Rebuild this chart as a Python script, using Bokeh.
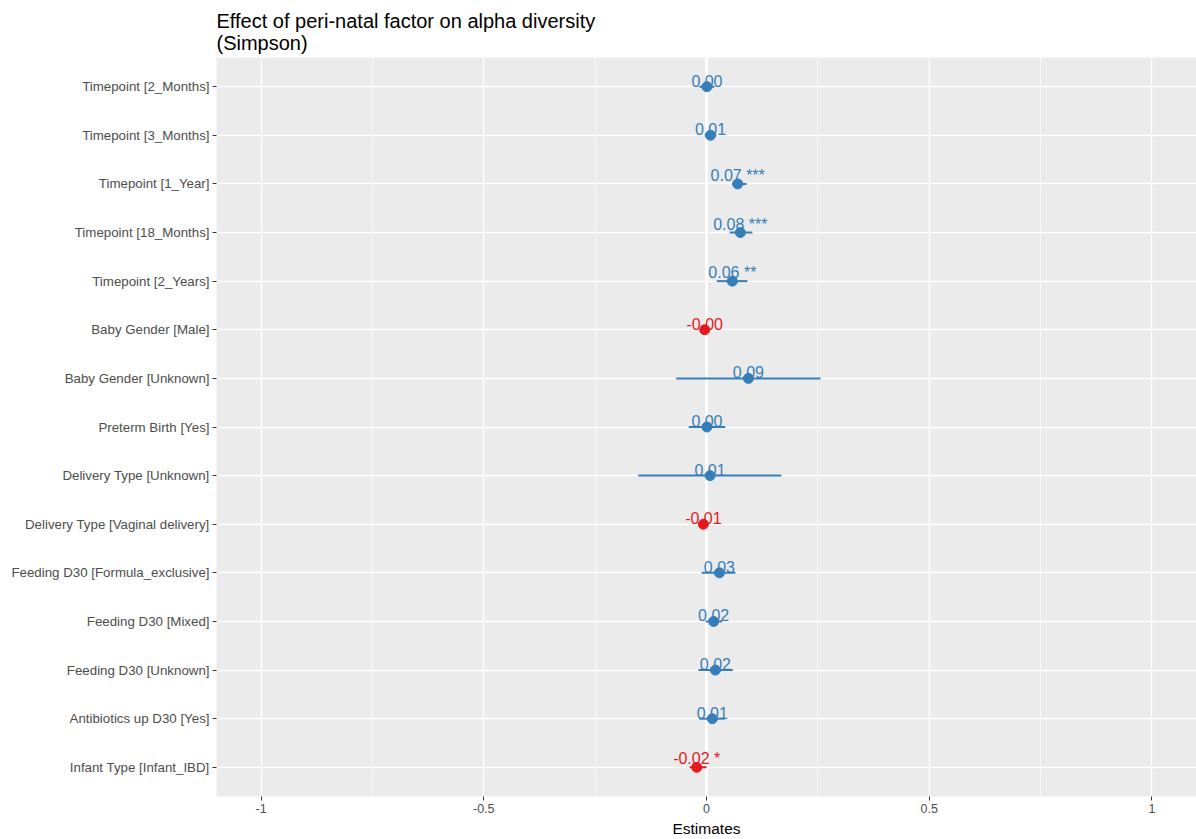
from bokeh.plotting import figure
from bokeh.models import FixedTicker, ColumnDataSource, Span
from bokeh.embed import file_html
from bokeh.resources import INLINE
from bokeh.core.properties import value

terms = [
    "Timepoint [2_Months]",
    "Timepoint [3_Months]",
    "Timepoint [1_Year]",
    "Timepoint [18_Months]",
    "Timepoint [2_Years]",
    "Baby Gender [Male]",
    "Baby Gender [Unknown]",
    "Preterm Birth [Yes]",
    "Delivery Type [Unknown]",
    "Delivery Type [Vaginal delivery]",
    "Feeding D30 [Formula_exclusive]",
    "Feeding D30 [Mixed]",
    "Feeding D30 [Unknown]",
    "Antibiotics up D30 [Yes]",
    "Infant Type [Infant_IBD]",
]
estimates = [0.001, 0.009, 0.070, 0.076, 0.058, -0.004, 0.094, 0.001, 0.008,
             -0.007, 0.029, 0.016, 0.020, 0.013, -0.022]
ci_low = [-0.016, -0.004, 0.058, 0.052, 0.023, -0.012, -0.068, -0.040, -0.153,
          -0.016, -0.011, -0.002, -0.018, -0.016, -0.038]
ci_high = [0.018, 0.022, 0.090, 0.103, 0.092, 0.004, 0.256, 0.042, 0.168,
           0.003, 0.065, 0.035, 0.059, 0.041, 0.000]
labels = ["0.00", "0.01", "0.07 ***", "0.08 ***", "0.06 **", "-0.00", "0.09",
          "0.00", "0.01", "-0.01", "0.03", "0.02", "0.02", "0.01", "-0.02 *"]
x_ticks = [-1, -0.5, 0, 0.5, 1]
x_tick_labels = ["-1", "-0.5", "0", "0.5", "1"]
x_minor = [-0.75, -0.25, 0.25, 0.75]

BLUE = "#377EB8"
RED = "#E41A1C"
FONT = "Liberation Sans"

n = len(terms)
ypos = [n - i for i in range(n)]
colors = [RED if e < 0 else BLUE for e in estimates]
src = ColumnDataSource(dict(y=ypos, est=estimates, lo=ci_low, hi=ci_high,
                            label=labels, color=colors))

p = figure(width=1196, height=839, x_range=(-1.1, 1.1), y_range=(0.4, 15.6),
           output_backend="svg", toolbar_location=None,
           min_border_left=216, min_border_right=0, min_border_bottom=42,
           min_border_top=57)

p.title.text = "Effect of peri-natal factor on alpha diversity\n(Simpson)"
p.title.text_font = FONT
p.title.text_font_size = "20px"
p.title.text_font_style = "normal"
p.title.text_color = "black"
p.title.align = "left"
p.title.text_line_height = 1.0
p.title.standoff = 8

p.background_fill_color = "#EBEBEB"
p.border_fill_color = "white"
p.outline_line_color = None

p.xaxis.ticker = FixedTicker(ticks=x_ticks, minor_ticks=x_minor)
p.xaxis.major_label_overrides = {t: l for t, l in zip(x_ticks, x_tick_labels)}
p.yaxis.ticker = FixedTicker(ticks=ypos)
p.yaxis.major_label_overrides = {y: t for y, t in zip(ypos, terms)}

for ax in (p.xaxis, p.yaxis):
    ax.axis_line_color = None
    ax.major_tick_line_color = "#333333"
    ax.major_tick_in = 0
    ax.major_tick_out = 4
    ax.minor_tick_line_color = None
    ax.major_label_text_font = FONT
    ax.major_label_text_color = "#4D4D4D"
    ax.major_label_standoff = 3

p.yaxis.major_label_text_font_size = "13.3px"
p.xaxis.major_label_text_font_size = "12.5px"
p.xaxis.axis_label = "Estimates"
p.xaxis.axis_label_text_font = FONT
p.xaxis.axis_label_text_font_size = "15.5px"
p.xaxis.axis_label_text_font_style = "normal"
p.xaxis.axis_label_text_color = "black"
p.xaxis.axis_label_standoff = 4

p.xgrid.grid_line_color = "white"
p.xgrid.grid_line_width = 1.3
p.xgrid.minor_grid_line_color = "white"
p.xgrid.minor_grid_line_width = 0.6
p.ygrid.grid_line_color = "white"
p.ygrid.grid_line_width = 1.3

p.add_layout(Span(location=0, dimension="height", line_color="white",
                  line_width=2.8, level="underlay"))

p.segment(x0="lo", x1="hi", y0="y", y1="y", source=src, line_color="color", line_width=2)
p.scatter(x="est", y="y", source=src, size=10, fill_color="color", line_color="color")
p.text(x="est", y="y", text="label", source=src, text_align="center",
       text_baseline="bottom", text_font=value(FONT), text_font_size="16px",
       text_color="color", y_offset=0)

open("out.html", "w").write(file_html(p, INLINE))
